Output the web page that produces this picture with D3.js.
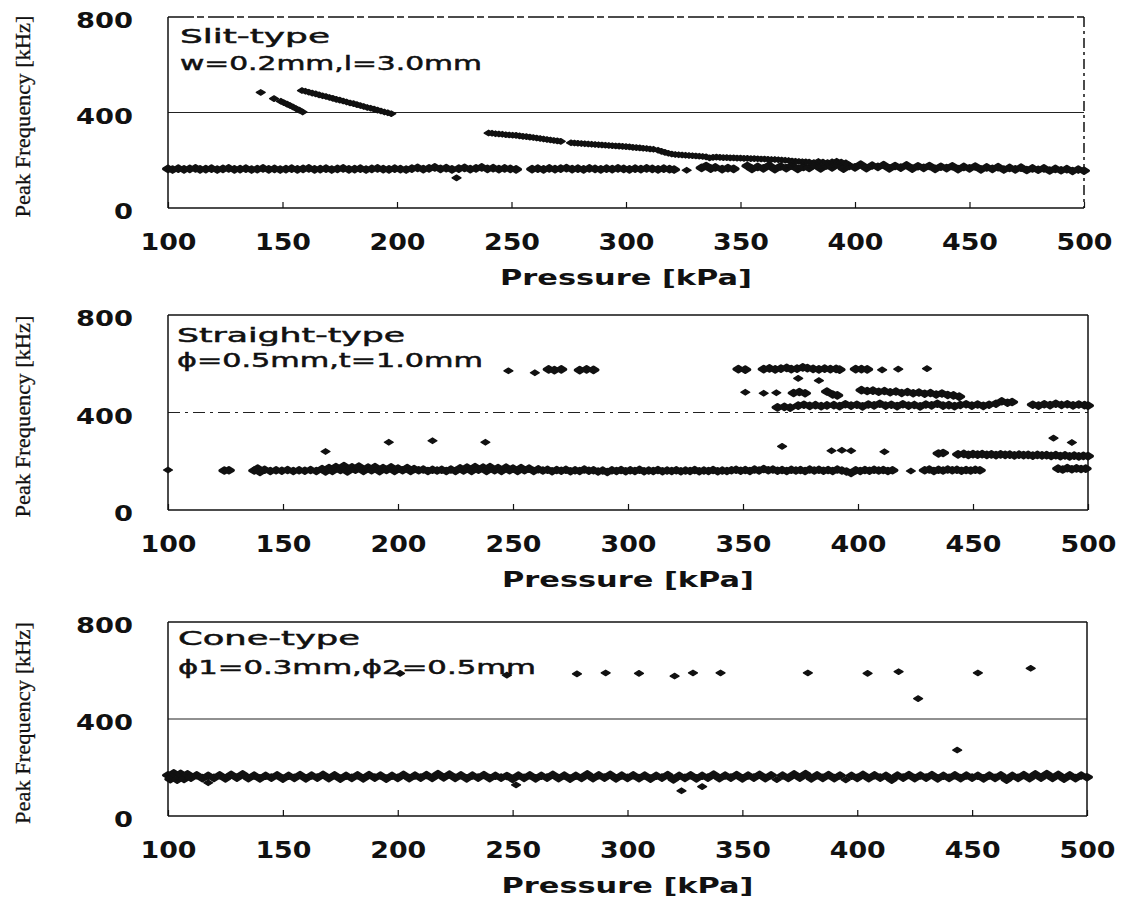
<!DOCTYPE html>
<html>
<head>
<meta charset="utf-8">
<script src="https://cdn.jsdelivr.net/npm/d3@7"></script>
<style>
  body { margin: 0; background: #fff; }
  svg { display: block; }
</style>
</head>
<body>
<svg id="chart" width="1125" height="901"></svg>
<script>
// ---------- axis ticks ----------
const pressureTicks = [100, 150, 200, 250, 300, 350, 400, 450, 500];
const freqTicks = [0, 400, 800];

// ---------- panel captions ----------
const panelTitles = ["Slit-type", "Straight-type", "Cone-type"];
const panelSpecs = ["w=0.2mm,l=3.0mm", "\u03D5=0.5mm,t=1.0mm", "\u03D51=0.3mm,\u03D52=0.5mm"];

// ---------- Slit-type: [pressure kPa, peak frequency kHz] ----------
const slitBase = [
  [100,164],[102,161],[104.5,165],[107,162],[109.5,164],[112,166],[114,162],[116.5,163],[119,165],[121.5,161],
  [124,164],[126.5,166],[129,162],[131.5,163],[134,165],[136.5,161],[139,163],[141.5,166],[144,162],[146.5,164],
  [149,161],[151.5,163],[154,165],[156.5,162],[159,164],[161.5,166],[164,162],[166.5,163],[169,165],[171.5,161],
  [174,164],[176.5,166],[179,162],[181.5,163],[184,165],[186.5,161],[189,164],[191.5,166],[194,163],[196.5,162],
  [199,165],[201.5,163],[204,161],[206.5,165],[209,168],[211.5,163],[214,166],[216.5,170],[219,164],[221.5,167],
  [224,162],[226,126],[227,165],[229.5,168],[232,163],[234.5,166],[237,170],[239.5,164],[242,167],[244.5,163],
  [247,166],[249.5,164],[252,162],
  [259,163],[261.5,165],[264,162],[266.5,166],[269,163],[271.5,165],[274,167],[276.5,163],[279,165],[281.5,162],
  [284,166],[286.5,164],[289,162],[291.5,165],[294,163],[296.5,166],[299,164],[301.5,162],[304,165],[306.5,163],
  [309,166],[311.5,164],[314,162],[316.5,165],[319,163],[321,161],
  [326.5,158],
  [333,168],[335,176],[337,165],[339,170],[342,163],[344.5,167],[347,164],
  [353,176],[355,164],[357.5,172],[360,166],[362.5,178],[365,163],[367.5,174],[370,167],[372.5,177],[375,164],
  [377.5,172],[380,168],[382.5,181],[385,166],[387.5,178],[390,170],[392.5,183],[395,165],[397.5,176],[400,170],
  [402.5,182],[405,167],[407.5,178],[410,172],[412.5,180],[415,166],[417.5,176],[420,169],[422.5,179],[425,165],
  [427.5,175],[430,168],[432.5,176],[435,164],[437.5,173],[440,167],[442.5,175],[445,163],[447.5,172],[450,166],
  [452.5,174],[455,162],[457.5,170],[460,164],[462.5,171],[465,161],[467.5,168],[470,162],[472.5,169],[475,159],
  [477.5,166],[480,160],[482.5,166],[485,157],[487.5,164],[490,158],[492.5,163],[495,155],[497.5,161],[500,156]
];
const slitBranchA = [
  [140.5,484],[146.3,458],[149.3,447],[150.6,441],[152,435],[153.3,429],[154.6,423],[156,416],[157.3,410],[158.8,402]
];
const slitBranchB = [
  [158.5,492],[160,489],[161.5,485],[163,481],[164.5,478],[166,474],[167.5,470],[169,467],[170.5,463],[172,459],
  [173.5,455],[175,452],[176.5,448],[178,444],[179.5,440],[181,437],[182.5,433],[184,429],[185.5,425],[187,421],
  [188.5,418],[190,414],[191.5,410],[193,406],[194.5,402],[196,399],[197.5,395]
];
const slitBranchC = [
  [240,314],[241.5,313],[243,311],[244.5,310],[246,309],[247.5,307],[249,306],[250.5,305],[252,304],[253.5,302],
  [255,300],[256.5,299],[258,297],[259.5,295],[261,293],[262.5,291],[264,289],[265.5,287],[267,285],[268.5,283],
  [270,281],[271.5,279],
  [276,273],[277.5,272],[279,271],[280.5,270],[282,269],[283.5,268],[285,267],[286.5,266],[288,265],[289.5,264],
  [291,263],[292.5,262],[294,261],[295.5,260],[297,259],[298.5,258],[300,257],[301.5,256],[303,254],[304.5,253],
  [306,252],[307.5,250],[309,249],[310.5,247],[312,246],
  [314,242],[315.5,237],[317,233],[318.5,229],[320,226],[321.5,224],[323,223],[324.5,222],[326,221],[327.5,220],
  [329,219],[330.5,218],[332,217],[333.5,216],[335,214],[336.5,210],[338,212],[339.5,213],[341,212],[342.5,211],
  [344,211],[345.5,210],[347,210],[348.5,209],[350,209],[351.5,208],[353,208],[354.5,207],[356,207],[357.5,206],
  [359,205],[360.5,205],[362,204],[363.5,203],[365,203],[366.5,202],[368,201],[369.5,200],[371,199],[372.5,197],
  [374,196],[375.5,195],[377,194],[378.5,193],[380,192],[382,190],[384,195],[386,192],[388,190],[390,193],
  [392,196],[394,192],[396,189]
];

// ---------- Straight-type ----------
const straightBase = [
  [100,164],[124.5,162],[126.5,163],
  [137.5,162],[139,170],[140,156],[142,165],[144.5,160],[147,163],[149.5,161],[152,164],[154.5,160],[157,163],
  [159.5,161],[162,164],[164.5,160],[167,168],[168.5,158],[170,172],[171.5,160],[173,176],[175,164],[176.5,180],
  [178,158],[180,175],[181.5,165],[183,178],[185,160],[187,174],[188.5,163],[190,176],[192,159],[193.5,172],
  [195,164],[197,175],[198.5,160],[200,170],[202,163],[204,172],[205.5,160],[207,168],[209,163],[211,166],
  [213,160],[215,165],[217,162],[219,165],[221,160],[223,166],[225,160],[227,171],[228.5,162],[230,174],
  [232,160],[233.5,176],[235,165],[237,174],[238.5,160],[240,176],[242,163],[243.5,172],[245,160],[247,174],
  [248.5,163],[250,170],[252,160],[253.5,172],[255,163],[257,170],[259,160],[261,167],[263,162],[265,165],
  [267,159],[269,164],[271,161],[273,165],[275,159],[277,163],[279,160],[281,166],[283,161],[285,163],
  [287,158],[289,162],[291,156],[293,163],[295,160],[297,164],[299,159],[301,163],[303,160],[305,165],
  [307,159],[309,162],[311,160],[313,164],[315,159],[317,162],[319,160],[321,163],[323,159],[325,162],
  [327,160],[329,164],[331,159],[333,162],[335,160],[337,164],[339,159],[341,162],[343,160],[345,163],
  [347,165],[349,161],[351,164],[353,160],[355,166],[357,162],[359,168],[361,163],[363,166],[365,161],
  [367,164],[369,160],[371,165],[373,162],[375,164],[377,160],[379,166],[381,162],[383,165],[385,161],
  [387,164],[389,160],[391,166],[393,162],[395,158],[397,152],[399,163],[401,160],[403,164],[405,161],
  [407,165],[409,162],[411,164],[413,160],[415,163],
  [423,160],
  [429,163],[431,166],[433,160],[435,165],[437,162],[439,166],[441,163],[443,165],[445,161],[447,164],
  [449,162],[451,165],[453,163],
  [487,170],[489,166],[491,172],[493,167],[495,171],[497,168],[499,170]
];
const straightMid = [
  [168.5,240],[196,278],[215,284],[238,278],
  [367,261],[388.5,243],[393,245],[397,243],[411.5,239],[435,232],[437,234],[485,295],[493,277],
  [443.5,228],[446,230],[448,226],[450,229],[452,227],[454,229],[456,226],[458,228],[460,225],[462,228],
  [464,226],[466,227],[468,224],[470,227],[472,225],[474,226],[476,223],[478,226],[480,224],[482,225],
  [484,222],[486,225],[488,221],[490,224],[492,220],[494,223],[496,220],[498,222],[500,221]
];
const straightHigh = [
  // ~430 kHz branch
  [365,421],[368,423],[370.5,420],
  [374,428],[376.5,432],[379,427],[381.5,430],[384,426],[386.5,429],
  [389.5,430],[392,426],[394.5,434],[397,428],[399.5,432],[402,425],[404.5,433],[407,429],[409.5,436],[412,428],
  [414.5,432],[417,426],[419.5,434],[422,428],[424.5,431],[427,425],[429.5,433],[432,429],[434.5,436],[437,428],
  [439.5,430],[442,426],[444.5,431],[447,434],[449.5,428],[452,433],[454.5,427],[457,432],
  [460,436],[462.5,446],[465,440],[467,443],
  [476,432],[478.5,428],[481,434],[483.5,430],[486,436],[488.5,431],[491,434],[493.5,429],[496,433],[498.5,430],[500,428],
  // ~480 kHz branch
  [351,483],[359,479],[364.5,481],[372,480],[374.5,484],[377,479],[386.5,486],[389,474],[391,470],
  [401.5,492],[404,488],[406.5,490],[409,485],[411.5,488],[414,483],[416.5,486],[419,480],[421.5,484],[424,479],
  [426.5,482],[429,477],[431.5,480],[434,474],[436.5,478],[439,472],[441.5,470],[444,465],
  // ~540 kHz
  [374,540],[383,531],
  // ~575 kHz branch
  [248,571],[259.5,563],[265.5,577],[268,574],[271,577],[279,574],[282,577],[285,575],
  [348,578],[351,576],
  [359,578],[361.5,581],[364,577],[366.5,580],[369,583],[371,578],[373.5,580],[376,585],[378,582],[380.5,579],
  [383,577],[385.5,580],[388,578],[390.5,579],[392,576],
  [399,578],[401.5,578],[404,577],[410.5,575],[417.5,578],[430,580]
];

// ---------- Cone-type ----------
const coneBase = [
  [100,168],[101,152],[102.5,176],[104,150],[105.5,174],[107,153],[108.5,172],[110,158],[112.5,168],[115,156],
  [117.5,166],[120,157],[122.5,168],[125,155],[127.5,170],[130,158],[132.5,172],[135,156],[137.5,167],[140,155],
  [142.5,166],[145,158],[147.5,168],[150,154],[152.5,166],[155,157],[157.5,169],[160,155],[162.5,167],[165,158],
  [167.5,170],[170,156],[172.5,168],[175,154],[177.5,166],[180,157],[182.5,168],[185,155],[187.5,169],[190,158],
  [192.5,167],[195,154],[197.5,166],[200,157],[202.5,170],[205,156],[207.5,167],[210,158],[212.5,169],[215,157],
  [217.5,173],[220,159],[222.5,171],[225,157],[227.5,168],[230,155],[232.5,167],[235,158],[237.5,169],[240,156],
  [242.5,166],[245,158],[247.5,165],[250,153],[252.5,167],[255,157],[257.5,168],[260,155],[262.5,166],[265,158],
  [267.5,170],[270,156],[272.5,167],[275,154],[277.5,166],[280,157],[282.5,172],[285,156],[287.5,168],[290,158],
  [292.5,170],[295,155],[297.5,167],[300,157],[302.5,168],[305,156],[307.5,167],[310,154],[312.5,166],[315,158],
  [317.5,169],[320,151],[322.5,166],[325,157],[327.5,168],[330,155],[332.5,166],[335,158],[337.5,171],[340,156],
  [342.5,167],[345,158],[347.5,169],[350,155],[352.5,167],[355,158],[357.5,170],[360,156],[362.5,168],[365,150],
  [367.5,167],[370,157],[372.5,172],[375,158],[377.5,173],[380,155],[382.5,168],[385,157],[387.5,169],[390,156],
  [392.5,167],[395,149],[397.5,166],[400,157],[402.5,170],[405,156],[407.5,168],[410,158],[412.5,166],[415,150],
  [417.5,167],[420,158],[422.5,169],[425,156],[427.5,167],[430,158],[432.5,169],[435,155],[437.5,166],[440,157],
  [442.5,168],[445,156],[447.5,167],[450,158],[452.5,166],[455,155],[457.5,167],[460,157],[462.5,168],[465,150],
  [467.5,166],[470,157],[472.5,169],[475,156],[477.5,172],[480,158],[482.5,173],[485,157],[487.5,170],[490,154],
  [492.5,168],[495,156],[497.5,167],[500,160]
];
const coneOutliers = [
  [117.5,137],[251.5,128],[323.5,104],[332.5,121],[443.5,272],[426.5,484],
  [201,588],[247.5,581],[278,586],[290.5,590],[305,588],[320.5,577],[328.5,590],[340.5,590],
  [378.5,590],[404.5,588],[418,595],[452.5,590],[475.5,609]
];

// ---------- layout ----------
// each series: [points, printed as a heavy ribbon where points crowd together]
const panels = [
  { top: 17,  bottom: 208, left: 168, right: 1084,
    series: [[slitBase, true], [slitBranchA, false], [slitBranchB, false], [slitBranchC, false]],
    topDash: "26,3,7,4", rightDash: "10,4,3,4", gridDash: null, titleY: 43, specY: 70, textX: 180,
    titleW: 150, specW: 302 },
  { top: 315, bottom: 510, left: 168, right: 1088,
    series: [[straightBase, true], [straightMid, true], [straightHigh, true]],
    topDash: null, rightDash: null, gridDash: "12,5,3,5", titleY: 342, specY: 367, textX: 177,
    titleW: 228, specW: 306 },
  { top: 622, bottom: 816, left: 168, right: 1087,
    series: [[coneBase, true], [coneOutliers, false]],
    topDash: null, rightDash: null, gridDash: null, titleY: 645, specY: 674, textX: 178,
    titleW: 182, specW: 358 }
];

const svg = d3.select("#chart");
const INK = "#111";

// diamond marker, wider than tall; the outline rounds it into a blot
const diamond = "M-4.4,0L0,-2.7L4.4,0L0,2.7Z";

function inRun(d, s) {
  return s.some(o => o !== d && Math.abs(o[0] - d[0]) <= 3 && Math.abs(o[1] - d[1]) <= 16);
}

panels.forEach((p, i) => {
  const g = svg.append("g");
  const x = d3.scaleLinear().domain([100, 500]).range([p.left, p.right]);
  const y = d3.scaleLinear().domain([0, 800]).range([p.bottom, p.top]);

  // 400 kHz reference line
  g.append("line")
    .attr("x1", x(100)).attr("x2", x(500))
    .attr("y1", y(400)).attr("y2", y(400))
    .attr("stroke", "#222").attr("stroke-width", 1.1)
    .attr("stroke-dasharray", p.gridDash);

  // frame
  const frame = [
    [x(100), y(800), x(500), y(800), p.topDash],
    [x(500), y(800), x(500), y(0), p.rightDash],
    [x(100), y(0), x(500), y(0), null],
    [x(100), y(800), x(100), y(0), null]
  ];
  g.selectAll("line.frame").data(frame).join("line")
    .attr("class", "frame")
    .attr("x1", d => d[0]).attr("y1", d => d[1])
    .attr("x2", d => d[2]).attr("y2", d => d[3])
    .attr("stroke", INK).attr("stroke-width", 1.5)
    .attr("stroke-dasharray", d => d[4]);

  // bottom axis: inner ticks + stretched labels
  const xa = g.append("g")
    .attr("transform", `translate(0,${p.bottom})`)
    .call(d3.axisBottom(x).tickValues(pressureTicks).tickSizeInner(-6).tickSizeOuter(0));
  xa.select(".domain").remove();
  xa.selectAll(".tick line").attr("stroke", INK).attr("stroke-width", 1.2);
  xa.selectAll(".tick text")
    .attr("fill", INK)
    .attr("font-family", "'DejaVu Sans', sans-serif")
    .attr("font-weight", "bold")
    .attr("font-size", 23)
    .attr("text-anchor", "start")
    .attr("dy", null)
    .attr("y", 42)
    .attr("x", -28)
    .attr("textLength", 56)
    .attr("lengthAdjust", "spacingAndGlyphs");

  // left axis labels
  const ya = g.append("g")
    .attr("transform", `translate(${p.left},0)`)
    .call(d3.axisLeft(y).tickValues(freqTicks).tickSize(0));
  ya.select(".domain").remove();
  ya.selectAll(".tick text")
    .attr("fill", INK)
    .attr("font-family", "'DejaVu Sans', sans-serif")
    .attr("font-weight", "bold")
    .attr("font-size", 20.5)
    .attr("text-anchor", "start")
    .attr("dy", null)
    .attr("y", 10.5)
    .attr("x", d => -35 - String(d).length * 19)
    .attr("textLength", d => String(d).length * 19)
    .attr("lengthAdjust", "spacingAndGlyphs");

  // axis titles
  g.append("text")
    .attr("x", (p.left + p.right) / 2 - 126)
    .attr("y", p.bottom + 77)
    .attr("font-family", "'DejaVu Sans', sans-serif")
    .attr("font-weight", "bold")
    .attr("font-size", 21)
    .attr("fill", INK)
    .attr("textLength", 252)
    .attr("lengthAdjust", "spacingAndGlyphs")
    .text("Pressure [kPa]");

  g.append("text")
    .attr("transform", `translate(30,${(p.top + p.bottom) / 2 + 4}) rotate(-90)`)
    .attr("x", -101)
    .attr("font-family", "'Liberation Serif', 'Times New Roman', serif")
    .attr("font-size", 22)
    .attr("fill", INK)
    .attr("stroke", INK).attr("stroke-width", 0.3)
    .attr("textLength", 202)
    .attr("lengthAdjust", "spacingAndGlyphs")
    .text("Peak Frequency [kHz]");

  // caption inside the frame
  [[panelTitles[i], p.titleY, p.titleW], [panelSpecs[i], p.specY, p.specW]].forEach(([t, ty, tw]) => {
    g.append("text")
      .attr("x", p.textX).attr("y", ty)
      .attr("font-family", "'DejaVu Sans', sans-serif")
      .attr("font-size", 20)
      .attr("fill", INK)
      .attr("stroke", INK).attr("stroke-width", 0.5)
      .attr("textLength", tw)
      .attr("lengthAdjust", "spacingAndGlyphs")
      .text(t);
  });

  // measured peaks
  p.series.forEach(([s, heavy]) => {
    g.append("g").selectAll("path").data(s).join("path")
      .attr("d", diamond)
      .attr("transform", d => `translate(${x(d[0])},${y(d[1])})`)
      .attr("fill", INK)
      .attr("stroke", INK)
      .attr("stroke-width", d => heavy && inRun(d, s) ? 3.2 : 1.4)
      .attr("stroke-linejoin", "round");
  });
});
</script>
</body>
</html>
